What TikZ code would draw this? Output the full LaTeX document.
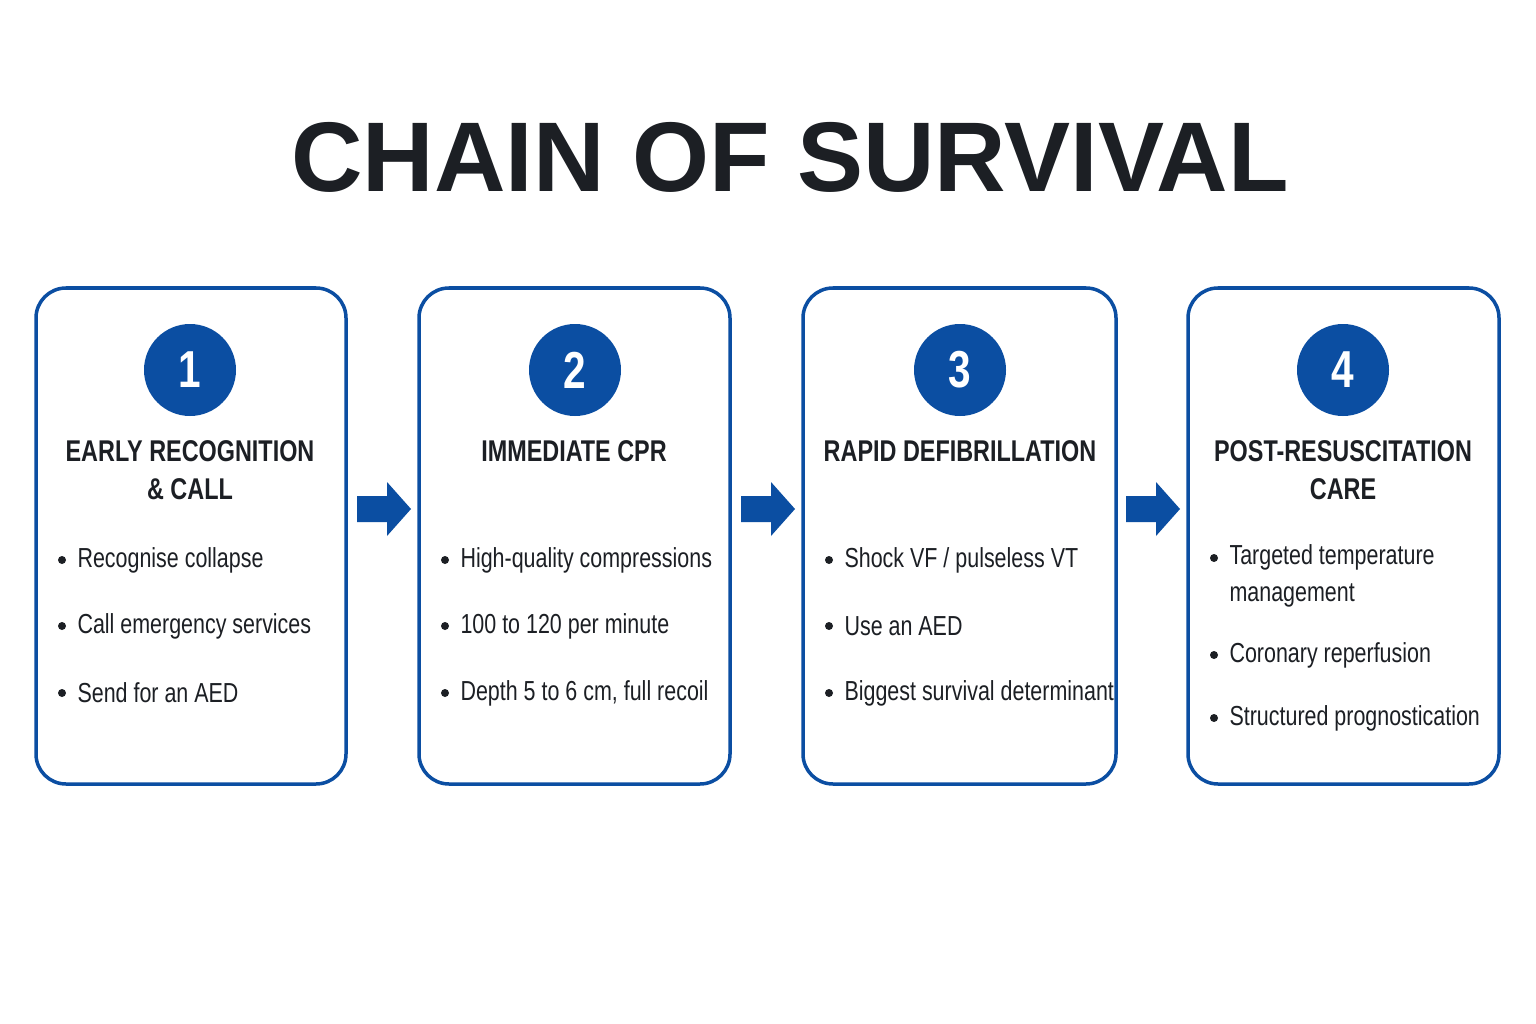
\documentclass[tikz,border=0pt]{standalone}
\usepackage{fontspec}
\setmainfont{Liberation Sans}[FakeStretch=0.78]
\newfontfamily\titlefont{Liberation Sans}
\definecolor{cblue}{HTML}{0B4EA2}
\definecolor{ctext}{HTML}{1C1F24}
\begin{document}
\begin{tikzpicture}[x=1pt,y=-1pt,
  card/.style={draw=cblue,line width=3.5pt,rounded corners=30pt,fill=white},
  num/.style={circle,fill=cblue,minimum size=92pt,inner sep=0pt,text=white,font=\fontsize{52}{52}\selectfont\bfseries},
  head/.style={text=ctext,align=center,font=\fontsize{30}{38}\selectfont\bfseries},
  item/.style={anchor=west,text=ctext,align=left,font=\fontsize{27.5}{37}\selectfont},
  bul/.style={circle,fill=ctext,inner sep=0pt,minimum size=8pt},
  arr/.style={fill=cblue,draw=none}]
\useasboundingbox (0,0) rectangle (1536,1024);
\fill[white] (0,0) rectangle (1536,1024);
\node[text=ctext,font=\fontsize{99}{99}\selectfont\bfseries\titlefont] (title) at (790,157) {CHAIN OF SURVIVAL};
% cards
\draw[card] (36,288) rectangle (346,784) coordinate (c1);
\draw[card] (419,288) rectangle (730,784) coordinate (c2);
\draw[card] (803,288) rectangle (1116,784) coordinate (c3);
\draw[card] (1188,288) rectangle (1499,784) coordinate (c4);
\node[num] (n1) at (190,370) {1};
\node[num] (n2) at (575,370) {2};
\node[num] (n3) at (960,370) {3};
\node[num] (n4) at (1343,370) {4};
\node[head,anchor=north] (h1) at (190,437) {EARLY RECOGNITION\\\& CALL};
\node[head,anchor=north] (h2) at (574,437) {IMMEDIATE CPR};
\node[head,anchor=north] (h3) at (960,437) {RAPID DEFIBRILLATION};
\node[head,anchor=north] (h4) at (1343,437) {POST-RESUSCITATION\\CARE};
% items
\foreach \x/\y/\t [count=\i] in {
 62/560/Recognise collapse, 62/626/Call emergency services, 62/693/Send for an AED,
 445/560/High-quality compressions, 445/626/100 to 120 per minute, 445/693/{Depth 5 to 6 cm, full recoil},
 829/560/{Shock VF \slash\ pulseless VT}, 829/626/Use an AED, 829/693/Biggest survival determinant,
 1214/655/Coronary reperfusion, 1214/718/Structured prognostication}{
  \node[bul] (b\i) at (\x,\y) {};
  \node[item] (t\i) at (\x+12,\y) {\t};
}
\node[bul] (b12) at (1214,558) {};
\node[item,anchor=north west] (t12) at (1226,541) {Targeted temperature\\management};
% arrows
\foreach \ax/\nm in {357/a1,741/a2,1126/a3}{
  \fill[arr] (\ax,496) -- (\ax+30,496) -- (\ax+30,482) -- (\ax+54,509) -- (\ax+30,536) -- (\ax+30,522) -- (\ax,522) -- cycle;
}
\end{tikzpicture}
\end{document}
